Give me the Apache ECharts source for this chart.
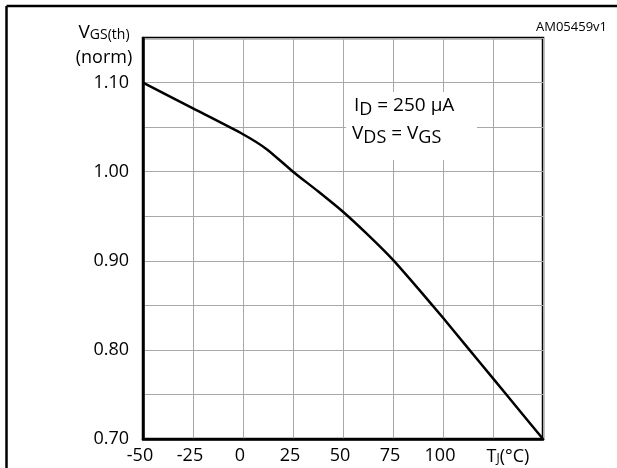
<!DOCTYPE html>
<html>
<head>
<meta charset="utf-8">
<script src="https://cdn.jsdelivr.net/npm/echarts@6/dist/echarts.min.js"></script>
<style>
html,body{margin:0;padding:0;background:#fff;}
#chart{width:617px;height:468px;}
</style>
</head>
<body>
<div id="chart"></div>
<script>
// Data
const tempC = [-50, -25, 0, 12, 25, 37.5, 50, 62.5, 75, 87.5, 100, 112.5, 125, 137.5, 150];
const vgsNorm = [1.100, 1.071, 1.042, 1.025, 1.000, 0.978, 0.955, 0.929, 0.901, 0.869, 0.836, 0.802, 0.768, 0.734, 0.700];
const xTickLabels = [-50, -25, 0, 25, 50, 75, 100];
const yTickLabels = ['0.70', '0.80', '0.90', '1.00', '1.10'];

const FONT = '"Open Sans", "Noto Sans", sans-serif';
const chart = echarts.init(document.getElementById('chart'), null, {renderer: 'canvas'});

const option = {
  backgroundColor: '#fff',
  animation: false,
  grid: {
    left: 143, top: 38, right: 74, bottom: 29,
    show: true, borderColor: '#000', borderWidth: 2.5, backgroundColor: 'transparent'
  },
  xAxis: {
    type: 'value', min: -50, max: 150, interval: 25,
    axisLine: {show: true, onZero: false, lineStyle: {color: '#000', width: 2.5}},
    axisTick: {show: false},
    splitLine: {show: true, lineStyle: {color: '#a8a8a8', width: 1}},
    axisLabel: {
      margin: 8, color: '#000', fontSize: 18, fontFamily: FONT,
      padding: [0, 6, 0, 0],
      formatter: v => xTickLabels.includes(v) ? String(v) : ''
    }
  },
  yAxis: {
    type: 'value', min: 0.70, max: 1.15, interval: 0.05,
    axisLine: {show: true, onZero: false, lineStyle: {color: '#000', width: 2.5}},
    axisTick: {show: false},
    splitLine: {show: true, lineStyle: {color: '#a8a8a8', width: 1}},
    axisLabel: {
      margin: 14, color: '#000', fontSize: 18, fontFamily: FONT,
      formatter: v => { const s = v.toFixed(2); return yTickLabels.includes(s) ? s : ''; }
    }
  },
  series: [{
    type: 'line',
    data: tempC.map((t, i) => [t, vgsNorm[i]]),
    showSymbol: false,
    smooth: 0.2,
    lineStyle: {color: '#000', width: 2.5},
    z: 5
  }],
  graphic: [
    // outer frame
    {type: 'line', shape: {x1: 6.5, y1: 6, x2: 617, y2: 6}, style: {stroke: '#000', lineWidth: 2.5}, z: 10},
    {type: 'line', shape: {x1: 6.5, y1: 6, x2: 6.5, y2: 468}, style: {stroke: '#000', lineWidth: 2.5}, z: 10},
    // annotation background
    {type: 'rect', shape: {x: 346, y: 92, width: 131, height: 68}, style: {fill: '#fff'}, z: 3},
    {type: 'text', x: 354, y: 106, z: 4, style: {
      text: '{n|I}{s|D}{n| = 250 µA}', verticalAlign: 'middle', align: 'left',
      rich: {
        n: {fontSize: 19, fontFamily: FONT, fill: '#000'},
        s: {fontSize: 18, fontFamily: FONT, fill: '#000', padding: [8, 0, 0, 0]}
      }
    }},
    {type: 'text', x: 352, y: 134, z: 4, style: {
      text: '{n|V}{s|DS}{n| = V}{s|GS}', verticalAlign: 'middle', align: 'left',
      rich: {
        n: {fontSize: 19, fontFamily: FONT, fill: '#000'},
        s: {fontSize: 18, fontFamily: FONT, fill: '#000', padding: [8, 0, 0, 0]}
      }
    }},
    // y axis title
    {type: 'text', x: 104, y: 33, z: 4, style: {
      text: '{n|V}{s|GS(th)}', align: 'center', verticalAlign: 'middle',
      rich: {
        n: {fontSize: 19, fontFamily: FONT, fill: '#000'},
        s: {fontSize: 14, fontFamily: FONT, fill: '#000', padding: [4, 0, 0, 0]}
      }
    }},
    {type: 'text', x: 104, y: 58, z: 4, style: {
      text: '(norm)', align: 'center', verticalAlign: 'middle',
      fontSize: 18, fontFamily: FONT, fill: '#000'
    }},
    // x axis title
    {type: 'text', x: 508, y: 457, z: 4, style: {
      text: '{n|T}{s|J}{n|(°C)}', align: 'center', verticalAlign: 'middle',
      rich: {
        n: {fontSize: 18, fontFamily: FONT, fill: '#000'},
        s: {fontSize: 12, fontFamily: FONT, fill: '#000', padding: [3, 0, 0, 0]}
      }
    }},
    // figure code
    {type: 'text', x: 607, y: 27, z: 4, style: {
      text: 'AM05459v1', align: 'right', verticalAlign: 'middle',
      fontSize: 13, fontFamily: FONT, fill: '#000'
    }}
  ]
};
chart.setOption(option);
</script>
</body>
</html>
